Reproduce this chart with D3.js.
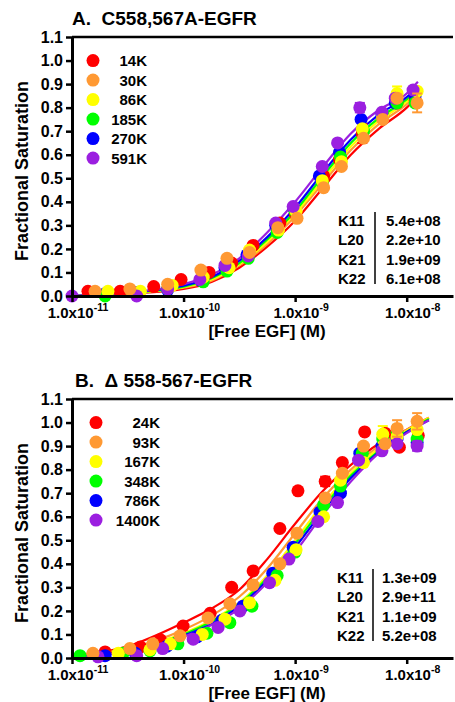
<!DOCTYPE html>
<html>
<head>
<meta charset="utf-8">
<script src="https://cdn.jsdelivr.net/npm/d3@7"></script>
<style>
body { margin: 0; background: #fff; }
text { font-family: "Liberation Sans", Arial, Helvetica, sans-serif; font-weight: bold; fill: #000; }
</style>
</head>
<body>
<svg id="chart"></svg>
<script>
//svg
let svg = d3.select("#chart").attr("width", 455).attr("height", 702);

//series labels and colours (same colour order in both panels)
var namesA = ['14K', '30K', '86K', '185K', '270K', '591K'];
var namesB = ['24K', '93K', '167K', '348K', '786K', '1400K'];
var colors = ['#ff0000', '#ff9933', '#ffff00', '#00ff00', '#0000ff', '#9b1fe0'];

var yTicks = [0, 0.1, 0.2, 0.3, 0.4, 0.5, 0.6, 0.7, 0.8, 0.9, 1.0, 1.1];
var xTicks = [1e-11, 1e-10, 1e-9, 1e-8];
var xExp = ['-11', '-10', '-9', '-8'];

//panel A points: [free EGF (M), fractional saturation, sem]
var a14 = [[1.39e-11,0.02],[2.7e-11,0.02],[5.4e-11,0.04],[9.5e-11,0.07],[1.69e-10,0.10],[2.7e-10,0.14],[4.2e-10,0.215],[7.3e-10,0.31],[1.0e-9,0.35],[1.8e-9,0.51],[2.5e-9,0.58],[4.0e-9,0.69,0.04],[6.1e-9,0.76],[8.2e-9,0.82],[1.19e-8,0.83]];
var a30 = [[1.61e-11,0.02],[3.3e-11,0.03],[7.2e-11,0.05],[1.43e-10,0.11],[2.45e-10,0.16],[3.9e-10,0.185],[7.0e-10,0.29],[1.04e-9,0.33],[1.8e-9,0.46],[2.6e-9,0.55],[4.1e-9,0.67],[6.1e-9,0.75],[8.2e-9,0.84],[1.24e-8,0.82,0.04]];
var a86 = [[2.1e-11,0.02],[4.1e-11,0.02],[7.9e-11,0.045],[1.5e-10,0.08],[2.56e-10,0.12],[3.9e-10,0.195],[7.1e-10,0.28],[1.02e-9,0.36],[1.75e-9,0.49],[2.6e-9,0.57],[4.0e-9,0.71],[6.1e-9,0.76],[8.2e-9,0.86,0.03],[1.24e-8,0.87]];
var a185 = [[1.98e-11,0.0],[3.8e-11,0.01],[7.2e-11,0.03],[1.5e-10,0.06],[2.45e-10,0.106],[3.8e-10,0.16],[6.9e-10,0.27],[1.0e-9,0.36],[1.75e-9,0.48],[2.55e-9,0.59],[4.1e-9,0.70],[6.1e-9,0.77],[8.2e-9,0.82],[1.19e-8,0.82]];
var a270 = [[1.98e-11,0.01],[3.8e-11,0.015],[7.2e-11,0.025],[1.43e-10,0.065],[2.35e-10,0.12],[3.7e-10,0.175],[6.7e-10,0.30],[9.8e-10,0.37],[1.65e-9,0.51],[2.5e-9,0.61],[3.9e-9,0.75],[6.0e-9,0.77],[7.9e-9,0.82],[1.19e-8,0.85]];
var a591 = [[1.0e-11,0.0],[3.8e-11,0.0],[7.2e-11,0.03],[1.4e-10,0.07],[2.35e-10,0.13],[3.8e-10,0.17],[6.7e-10,0.31],[9.6e-10,0.38],[1.75e-9,0.55],[2.4e-9,0.65],[3.8e-9,0.80,0.02],[6.0e-9,0.78],[7.9e-9,0.84],[1.14e-8,0.875]];

//panel A fitted curves, sampled at these concentrations
var fitConcA = [1e-11, 3.16e-11, 1e-10, 1.78e-10, 3.16e-10, 5.62e-10, 1e-9, 1.78e-9, 3.16e-9, 5.62e-9, 1e-8, 1.26e-8];
var fitA14  = [0.0, 0.010, 0.030, 0.060, 0.120, 0.210, 0.320, 0.460, 0.600, 0.710, 0.800, 0.850];
var fitA30  = [0.0, 0.012, 0.035, 0.065, 0.130, 0.220, 0.340, 0.480, 0.620, 0.730, 0.815, 0.860];
var fitA86  = [0.0, 0.012, 0.038, 0.070, 0.135, 0.230, 0.350, 0.495, 0.635, 0.745, 0.825, 0.870];
var fitA185 = [0.0, 0.013, 0.040, 0.075, 0.140, 0.240, 0.360, 0.510, 0.650, 0.755, 0.835, 0.875];
var fitA270 = [0.0, 0.014, 0.044, 0.080, 0.150, 0.250, 0.375, 0.525, 0.665, 0.770, 0.845, 0.885];
var fitA591 = [0.0, 0.015, 0.050, 0.090, 0.160, 0.270, 0.400, 0.550, 0.690, 0.790, 0.860, 0.910];

//panel B points
var b24 = [[1.98e-11,0.026],[4.1e-11,0.047],[6.2e-11,0.077],[9.9e-11,0.136],[1.73e-10,0.19],[2.7e-10,0.30],[4.2e-10,0.37],[7.3e-10,0.55],[1.06e-9,0.71],[1.86e-9,0.75,0.02],[2.65e-9,0.83],[4.2e-9,0.96],[6.4e-9,0.955],[8.6e-9,0.895],[1.27e-8,0.945]];
var b93 = [[1.54e-11,0.02],[3.3e-11,0.04],[5.3e-11,0.06],[9.3e-11,0.094],[1.66e-10,0.17],[2.6e-10,0.23],[4.2e-10,0.31],[7.3e-10,0.40],[1.04e-9,0.53],[1.86e-9,0.68],[2.65e-9,0.785],[4.1e-9,0.90],[6.4e-9,0.91],[8.2e-9,0.975,0.035],[1.24e-8,1.005,0.035]];
var b167 = [[2.6e-11,0.02],[5.0e-11,0.035],[7.6e-11,0.06],[1.47e-10,0.10],[2.35e-10,0.165],[3.9e-10,0.235],[6.6e-10,0.33],[1.02e-9,0.46],[1.8e-9,0.60],[2.55e-9,0.755],[4.1e-9,0.83],[6.1e-9,0.95,0.035],[8.2e-9,0.94],[1.24e-8,0.97]];
var b348 = [[1.18e-11,0.01],[2.87e-11,0.02],[5.0e-11,0.03],[8.9e-11,0.06],[1.62e-10,0.105],[2.6e-10,0.15],[4.1e-10,0.22],[6.9e-10,0.35],[1.0e-9,0.45],[1.8e-9,0.65],[2.55e-9,0.73],[4.0e-9,0.87],[6.1e-9,0.93,0.03],[8.2e-9,0.96,0.03],[1.24e-8,0.93]];
var b786 = [[1.98e-11,0.01],[3.7e-11,0.02],[7.1e-11,0.05],[1.32e-10,0.09],[2.2e-10,0.16],[3.4e-10,0.22],[6.3e-10,0.36],[9.6e-10,0.47],[1.67e-9,0.62],[2.55e-9,0.70],[3.8e-9,0.87],[6.0e-9,0.90],[8.2e-9,0.93],[1.24e-8,0.915]];
var b1400 = [[1.71e-11,0.005],[3.8e-11,0.01],[6.5e-11,0.04],[1.22e-10,0.08],[2.04e-10,0.13],[3.2e-10,0.20],[5.9e-10,0.32],[8.8e-10,0.42],[1.6e-9,0.58],[2.4e-9,0.66],[3.7e-9,0.84],[6.0e-9,0.88],[8.2e-9,0.91],[1.24e-8,0.90,0.02]];

//panel B fitted curves
var fitConcB = [1e-11, 3.16e-11, 1e-10, 1.78e-10, 3.16e-10, 5.62e-10, 1e-9, 1.78e-9, 3.16e-9, 5.62e-9, 1e-8, 1.58e-8];
var fitB24   = [0.010, 0.050, 0.150, 0.210, 0.290, 0.420, 0.570, 0.710, 0.820, 0.910, 0.970, 1.020];
var fitB93   = [0.010, 0.040, 0.120, 0.180, 0.260, 0.380, 0.530, 0.680, 0.800, 0.900, 0.970, 1.020];
var fitB167  = [0.005, 0.035, 0.105, 0.160, 0.235, 0.350, 0.500, 0.655, 0.785, 0.890, 0.965, 1.020];
var fitB348  = [0.005, 0.033, 0.100, 0.155, 0.230, 0.340, 0.485, 0.640, 0.775, 0.880, 0.960, 1.015];
var fitB786  = [0.0,   0.030, 0.095, 0.145, 0.220, 0.330, 0.470, 0.625, 0.765, 0.875, 0.960, 1.010];
var fitB1400 = [0.0,   0.030, 0.090, 0.140, 0.210, 0.320, 0.450, 0.610, 0.750, 0.870, 0.955, 1.010];

//fitted constants
var paramNames = ['K11', 'L20', 'K21', 'K22'];
var paramsA = ['5.4e+08', '2.2e+10', '1.9e+09', '6.1e+08'];
var paramsB = ['1.3e+09', '2.9e+11', '1.1e+09', '5.2e+08'];

//order in which the symbols get stacked (index into colors)
var drawOrder = [0, 4, 3, 2, 5, 1];

let plotH = 259;
let x = d3.scaleLog().domain([1e-11, 2.6e-8]).range([72, 453]);
let y = d3.scaleLinear().domain([0, 1.1]).range([plotH, 0]);

let line = d3.line()
  .x(d => x(d[0]))
  .y(d => y(d[1]))
  .curve(d3.curveMonotoneX);

function drawPanel(p) {
  let g = svg.append('g').attr('transform', 'translate(0,' + p.top + ')');

  //title
  g.append('text')
    .attr('x', p.titleX).attr('y', -12)
    .style('font-size', '19px')
    .style('white-space', 'pre')
    .text(p.title);

  //fit curves
  p.fits.forEach(function(f, i) {
    g.append('path')
      .attr('d', line(p.fitConc.map((c, j) => [c, f[j]])))
      .attr('fill', 'none')
      .attr('stroke', colors[i])
      .attr('stroke-width', 2.2);
  });

  //error bars + points
  drawOrder.forEach(function(i) {
    let s = g.append('g');
    let pts = p.points[i];
    let eb = s.selectAll('g.err')
      .data(pts.filter(d => d[2]))
      .enter().append('g')
      .attr('stroke', colors[i])
      .attr('stroke-width', 2);
    eb.append('line')
      .attr('x1', d => x(d[0])).attr('x2', d => x(d[0]))
      .attr('y1', d => y(d[1] - d[2])).attr('y2', d => y(d[1] + d[2]));
    eb.append('line')
      .attr('x1', d => x(d[0]) - 5).attr('x2', d => x(d[0]) + 5)
      .attr('y1', d => y(d[1] + d[2])).attr('y2', d => y(d[1] + d[2]));
    eb.append('line')
      .attr('x1', d => x(d[0]) - 5).attr('x2', d => x(d[0]) + 5)
      .attr('y1', d => y(d[1] - d[2])).attr('y2', d => y(d[1] - d[2]));
    s.selectAll('circle')
      .data(pts)
      .enter().append('circle')
      .attr('cx', d => x(d[0]))
      .attr('cy', d => y(d[1]))
      .attr('r', 6.5)
      .attr('fill', colors[i]);
  });

  //axes
  let yAxis = g.append('g')
    .attr('transform', 'translate(72,0)')
    .call(d3.axisLeft(y).tickValues(yTicks).tickFormat(d3.format('.1f')).tickSize(6).tickSizeOuter(0));
  let xAxis = g.append('g')
    .attr('transform', 'translate(0,' + plotH + ')')
    .call(d3.axisBottom(x).tickValues(xTicks).tickFormat('').tickSize(6).tickSizeOuter(0));
  [yAxis, xAxis].forEach(function(a) {
    a.select('.domain').attr('stroke-width', 3);
    a.selectAll('.tick line').attr('stroke-width', 2.5);
  });
  yAxis.selectAll('.tick text')
    .attr('x', -9)
    .style('font-size', '16px')
    .style('font-family', '"Liberation Sans", Arial, sans-serif')
    .style('font-weight', 'bold');

  //x tick labels: base text and exponent as separate texts, centred together
  xTicks.forEach(function(t, i) {
    let base = g.append('text')
      .attr('y', plotH + 22)
      .style('font-size', '15px')
      .text('1.0x10');
    let sup = g.append('text')
      .attr('y', plotH + 15)
      .style('font-size', '10.5px')
      .text(xExp[i]);
    let wb = base.node().getComputedTextLength();
    let ws = sup.node().getComputedTextLength();
    let x0 = x(t) + 6 - (wb + ws) / 2;
    base.attr('x', x0);
    sup.attr('x', x0 + wb);
  });

  //top frame line
  g.append('line')
    .attr('x1', 72).attr('x2', 453)
    .attr('y1', 0).attr('y2', 0)
    .attr('stroke', '#000').attr('stroke-width', 2.5);

  //axis titles
  g.append('text')
    .attr('transform', 'translate(28,' + 134 + ')rotate(-90)')
    .attr('text-anchor', 'middle')
    .style('font-size', '18px')
    .text('Fractional Saturation');
  g.append('text')
    .attr('x', 267).attr('y', 300)
    .attr('text-anchor', 'middle')
    .style('font-size', '17px')
    .text('[Free EGF] (M)');

  //legend
  let leg = g.selectAll('g.leg')
    .data(p.names)
    .enter().append('g')
    .attr('class', 'leg')
    .attr('transform', (d, i) => 'translate(0,' + (y(1.0) + i * 19.5) + ')');
  leg.append('circle')
    .attr('cx', p.legX).attr('cy', 0).attr('r', 6.5)
    .attr('fill', (d, i) => colors[i]);
  leg.append('text')
    .attr('x', p.legTextX).attr('y', 5.5)
    .attr('text-anchor', 'end')
    .style('font-size', '15px')
    .text(d => d);

  //fitted constants table
  let tb = g.selectAll('g.par')
    .data(paramNames)
    .enter().append('g')
    .attr('class', 'par')
    .attr('transform', (d, i) => 'translate(0,' + (p.tabY + i * 19.3) + ')');
  tb.append('text')
    .attr('x', p.keyX)
    .style('font-size', '15px')
    .text(d => d);
  tb.append('text')
    .attr('x', p.valX)
    .style('font-size', '15px')
    .text((d, i) => p.params[i]);
  g.append('line')
    .attr('x1', p.barX).attr('x2', p.barX)
    .attr('y1', p.tabY - 14).attr('y2', p.tabY + 58)
    .attr('stroke', '#000').attr('stroke-width', 1.5);
}

drawPanel({
  top: 37, title: 'A.  C558,567A-EGFR', titleX: 72,
  points: [a14, a30, a86, a185, a270, a591],
  fitConc: fitConcA, fits: [fitA14, fitA30, fitA86, fitA185, fitA270, fitA591],
  names: namesA, legX: 93, legTextX: 147,
  params: paramsA, tabY: 189, keyX: 338, valX: 386, barX: 375
});

drawPanel({
  top: 399, title: 'B.  \u0394 558-567-EGFR', titleX: 75,
  points: [b24, b93, b167, b348, b786, b1400],
  fitConc: fitConcB, fits: [fitB24, fitB93, fitB167, fitB348, fitB786, fitB1400],
  names: namesB, legX: 96, legTextX: 160,
  params: paramsB, tabY: 184, keyX: 337, valX: 382, barX: 373
});
</script>
</body>
</html>
